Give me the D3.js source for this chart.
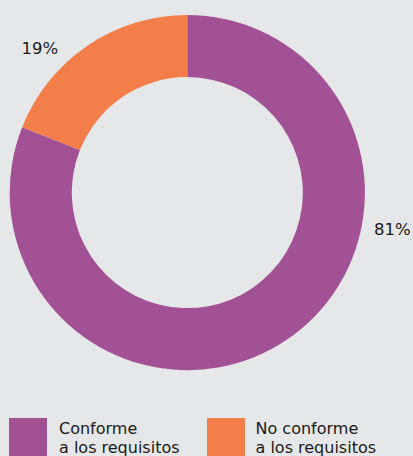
<!DOCTYPE html>
<html><head><meta charset="utf-8">
<script src="https://cdn.jsdelivr.net/npm/d3@7"></script>
<style>html,body{margin:0;padding:0;background:#e6e7e8;}svg{display:block;}</style>
</head><body>
<script>
const categories = ["Conforme a los requisitos", "No conforme a los requisitos"];
const legendLines = [["Conforme", "a los requisitos"], ["No conforme", "a los requisitos"]];
const values = [81, 19];
const labels = ["81%", "19%"];
const colors = ["#a25195", "#f47e4a"];

const W = 413, H = 456;
const svg = d3.select("body").append("svg").attr("width", W).attr("height", H);
svg.append("rect").attr("width", W).attr("height", H).attr("fill", "#e6e7e8");

const cx = 187.3, cy = 192.6, R = 177.6, r = 115.5;
const pie = d3.pie().sort(null).value(d => d);
const arcs = pie(values);
const arc = d3.arc().innerRadius(r).outerRadius(R);
const g = svg.append("g").attr("transform", `translate(${cx},${cy})`);
g.selectAll("path").data(arcs).enter().append("path")
  .attr("d", arc).attr("fill", (d, i) => colors[i]);

// value labels
const labelPos = [[374, 235], [21.5, 54]];
svg.selectAll("text.val").data(labels).enter().append("text")
  .attr("class", "val")
  .attr("x", (d, i) => labelPos[i][0]).attr("y", (d, i) => labelPos[i][1])
  .attr("font-family", "DejaVu Sans").attr("font-size", 16.5)
  .attr("fill", "#1a1a1a").text(d => d);

// legend
const legX = [9, 207], legTextOff = [50, 48.5];
const lg = svg.selectAll("g.leg").data(categories).enter().append("g")
  .attr("class", "leg").attr("transform", (d, i) => `translate(${legX[i]},418)`);
lg.append("rect").attr("width", 38).attr("height", 40).attr("fill", (d, i) => colors[i]);
lg.each(function(d, i) {
  const t = d3.select(this).append("text")
    .attr("font-family", "DejaVu Sans").attr("font-size", 16)
    .attr("fill", "#1a1a1a");
  legendLines[i].forEach((line, j) => {
    t.append("tspan").attr("x", legTextOff[i]).attr("y", 16 + j * 19).text(line);
  });
});
</script>
</body></html>
